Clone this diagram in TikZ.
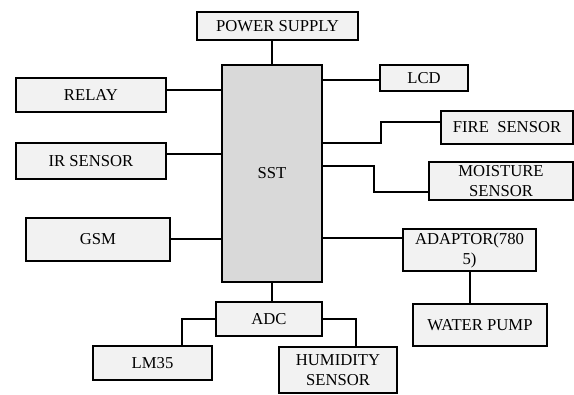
\documentclass[tikz,border=0pt]{standalone}
\usepackage{fontspec}
\setmainfont{Liberation Serif}
\usepackage{xcolor}
\usetikzlibrary{positioning}

\definecolor{boxgray}{HTML}{F2F2F2}
\definecolor{coregray}{HTML}{D9D9D9}

\begin{document}
\begin{tikzpicture}[
    x=0.75pt, y=-0.75pt,
    boxsize/.style 2 args={minimum width=#1*0.75pt, minimum height=#2*0.75pt},
    box/.style={
        rectangle,
        draw=black,
        line width=1.5pt,
        fill=boxgray,
        inner sep=0pt,
        align=center,
        font=\fontsize{12.5}{15}\selectfont
    },
    core/.style={box, fill=coregray},
    wire/.style={line width=1.5pt}
]
\useasboundingbox (0,0) rectangle (574,394);

% Controller
\node[core, boxsize={100}{217}] (sst) at (272, 173.5) {SST};

% Top
\node[box, boxsize={161}{28}] (power) at (277.5, 26) {POWER SUPPLY};

% Left side
\node[box, boxsize={150}{34}] (relay) at (91, 95) {RELAY};
\node[box, boxsize={150}{36}] (ir) at (91, 161) {IR SENSOR};
\node[box, boxsize={144}{43}] (gsm) at (98, 239.5) {GSM};

% Right side
\node[box, boxsize={88}{26}] (lcd) at (424, 78) {LCD};
\node[box, boxsize={132}{33}] (fire) at (507, 127.5) {FIRE\ \ SENSOR};
\node[box, boxsize={144}{38}] (moisture) at (501, 181) {MOISTURE\\SENSOR};
\node[box, boxsize={133}{42}] (adaptor) at (469.5, 250) {ADAPTOR(780\\5)};
\node[box, boxsize={134}{42}] (pump) at (480, 325) {WATER PUMP};

% Bottom
\node[box, boxsize={106}{34}] (adc) at (269, 319) {ADC};
\node[box, boxsize={119}{34}] (lm35) at (152.5, 363) {LM35};
\node[box, boxsize={118}{46}] (humidity) at (338, 370) {HUMIDITY\\SENSOR};

% Connections
\draw[wire] (power.south -| sst.north) -- (sst.north);
\draw[wire] (sst.east |- 0,80) -- (lcd.west |- 0,80);
\draw[wire] (relay.east |- 0,90) -- (sst.west |- 0,90);
\draw[wire] (ir.east |- 0,154) -- (sst.west |- 0,154);
\draw[wire] (gsm.east |- 0,239) -- (sst.west |- 0,239);
\draw[wire] (fire.west |- 0,122) -| (381,143) -- (sst.east |- 0,143);
\draw[wire] (moisture.west |- 0,192) -| (374,166) -- (sst.east |- 0,166);
\draw[wire] (sst.east |- 0,238) -- (adaptor.west |- 0,238);
\draw[wire] (adaptor.south -| 470,0) -- (pump.north -| 470,0);
\draw[wire] (sst.south) -- (sst.south |- adc.north);
\draw[wire] (adc.west) -| (lm35.north -| 182,0);
\draw[wire] (adc.east) -| (humidity.north -| 356,0);

\end{tikzpicture}
\end{document}
